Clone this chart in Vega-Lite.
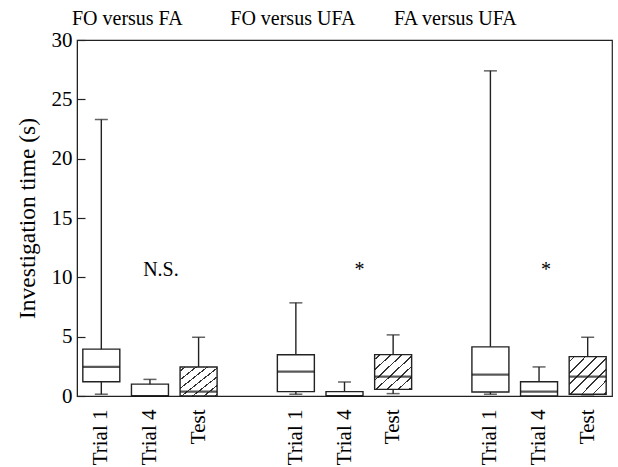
{
  "$schema": "https://vega.github.io/schema/vega-lite/v6.json",
  "width": 535,
  "height": 356,
  "autosize": "none",
  "padding": {"left": 77, "top": 40, "right": 6, "bottom": 71},
  "background": "white",
  "config": {
    "view": {"stroke": "#222", "strokeWidth": 1.2},
    "font": "'Liberation Serif', 'DejaVu Serif', serif",
    "text": {"font": "'Liberation Serif', 'DejaVu Serif', serif"},
    "axis": {"labelFont": "'Liberation Serif', 'DejaVu Serif', serif", "titleFont": "'Liberation Serif', 'DejaVu Serif', serif", "labelColor": "black", "titleColor": "black", "domainColor": "#222", "tickColor": "#222", "grid": false}
  },
  "datasets": {
    "boxes": [
      {"slot": "FO versus FA|Trial 1", "min": 0.15, "q1": 1.2, "median": 2.45, "q3": 3.95, "max": 23.3, "hatched": false},
      {"slot": "FO versus FA|Trial 4", "min": 0, "q1": 0, "median": 0, "q3": 1.0, "max": 1.4, "hatched": false},
      {"slot": "FO versus FA|Test", "min": 0, "q1": 0, "median": 0.37, "q3": 2.45, "max": 4.95, "hatched": true},
      {"slot": "FO versus UFA|Trial 1", "min": 0.15, "q1": 0.37, "median": 2.05, "q3": 3.48, "max": 7.85, "hatched": false},
      {"slot": "FO versus UFA|Trial 4", "min": 0, "q1": 0, "median": 0, "q3": 0.37, "max": 1.18, "hatched": false},
      {"slot": "FO versus UFA|Test", "min": 0.2, "q1": 0.56, "median": 1.63, "q3": 3.49, "max": 5.15, "hatched": true},
      {"slot": "FA versus UFA|Trial 1", "min": 0.15, "q1": 0.34, "median": 1.8, "q3": 4.14, "max": 27.4, "hatched": false},
      {"slot": "FA versus UFA|Trial 4", "min": 0, "q1": 0, "median": 0.37, "q3": 1.2, "max": 2.45, "hatched": false},
      {"slot": "FA versus UFA|Test", "min": 0.1, "q1": 0.15, "median": 1.63, "q3": 3.32, "max": 4.95, "hatched": true}
    ],
    "notes": [
      {"slot": "FO versus FA|Trial 4", "text": "N.S.", "y": 10.1},
      {"slot": "FO versus UFA|Trial 4", "text": "*", "y": 10.1},
      {"slot": "FA versus UFA|Trial 4", "text": "*", "y": 10.1}
    ],
    "headers": [
      {"slot": "FO versus FA|Trial 1", "text": "FO versus FA", "y": 31.3},
      {"slot": "FO versus UFA|Trial 1", "text": "FO versus UFA", "y": 31.3},
      {"slot": "FA versus UFA|Trial 1", "text": "FA versus UFA", "y": 31.3}
    ]
  },
  "encoding": {
    "x": {
      "field": "slot", "type": "nominal",
      "scale": {
        "domain": ["FO versus FA|Trial 1", "FO versus FA|Trial 4", "FO versus FA|Test", "gap1", "FO versus UFA|Trial 1", "FO versus UFA|Trial 4", "FO versus UFA|Test", "gap2", "FA versus UFA|Trial 1", "FA versus UFA|Trial 4", "FA versus UFA|Test"],
        "paddingInner": 0, "paddingOuter": 0
      },
      "axis": {
        "title": null, "ticks": false, "labelAngle": 270, "labelAlign": "right", "labelBaseline": "middle",
        "labelFontSize": 21, "labelPadding": 13,
        "labelExpr": "indexof(datum.label, '|') >= 0 ? split(datum.label, '|')[1] : ''"
      }
    }
  },
  "layer": [
    {
      "data": {"name": "boxes"},
      "mark": {"type": "rule", "color": "#222", "strokeWidth": 1.4},
      "encoding": {
        "y": {"field": "min", "type": "quantitative", "scale": {"domain": [0, 30], "nice": false},
          "axis": {
            "title": "Investigation time (s)", "titleFontSize": 23.5, "titleFontWeight": "normal", "titlePadding": 12,
            "values": [0, 2.5, 5, 7.5, 10, 12.5, 15, 17.5, 20, 22.5, 25, 27.5, 30],
            "labelExpr": "datum.value % 5 === 0 ? datum.label : ''",
            "labelFontSize": 21, "labelPadding": 13,
            "tickSize": {"condition": {"test": "datum.value % 5 === 0", "value": -8}, "value": -4},
            "tickWidth": 1.2
          }},
        "y2": {"field": "max"}
      }
    },
    {
      "data": {"name": "boxes"},
      "mark": {"type": "tick", "color": "#222", "size": 13, "thickness": 1.5},
      "encoding": {"y": {"field": "max", "type": "quantitative"}}
    },
    {
      "data": {"name": "boxes"},
      "mark": {"type": "tick", "color": "#222", "size": 13, "thickness": 1.5},
      "encoding": {"y": {"field": "min", "type": "quantitative"}}
    },
    {
      "data": {"name": "boxes"},
      "transform": [{"filter": "!datum.hatched"}],
      "mark": {"type": "bar", "size": 37, "fill": "white", "stroke": "#222", "strokeWidth": 1.4},
      "encoding": {"y": {"field": "q1", "type": "quantitative"}, "y2": {"field": "q3"}}
    },
    {
      "data": {"name": "boxes"},
      "transform": [{"filter": "datum.hatched"}],
      "mark": {"type": "bar", "size": 37, "stroke": "#222", "strokeWidth": 1.4,
        "fill": {"gradient": "linear", "x1": 0, "y1": 0, "x2": 1, "y2": 1, "stops": [
          {"offset": 0, "color": "white"},
          {"offset": 0.058, "color": "white"}, {"offset": 0.058, "color": "#333"}, {"offset": 0.082, "color": "#333"}, {"offset": 0.082, "color": "white"},
          {"offset": 0.208, "color": "white"}, {"offset": 0.208, "color": "#333"}, {"offset": 0.232, "color": "#333"}, {"offset": 0.232, "color": "white"},
          {"offset": 0.358, "color": "white"}, {"offset": 0.358, "color": "#333"}, {"offset": 0.382, "color": "#333"}, {"offset": 0.382, "color": "white"},
          {"offset": 0.508, "color": "white"}, {"offset": 0.508, "color": "#333"}, {"offset": 0.532, "color": "#333"}, {"offset": 0.532, "color": "white"},
          {"offset": 0.658, "color": "white"}, {"offset": 0.658, "color": "#333"}, {"offset": 0.682, "color": "#333"}, {"offset": 0.682, "color": "white"},
          {"offset": 0.808, "color": "white"}, {"offset": 0.808, "color": "#333"}, {"offset": 0.832, "color": "#333"}, {"offset": 0.832, "color": "white"},
          {"offset": 0.958, "color": "white"}, {"offset": 0.958, "color": "#333"}, {"offset": 0.982, "color": "#333"}, {"offset": 0.982, "color": "white"},
          {"offset": 1, "color": "white"}
        ]}},
      "encoding": {"y": {"field": "q1", "type": "quantitative"}, "y2": {"field": "q3"}}
    },
    {
      "data": {"name": "boxes"},
      "mark": {"type": "tick", "color": "#111", "size": 37, "thickness": 2.2},
      "encoding": {"y": {"field": "median", "type": "quantitative"}}
    },
    {
      "data": {"name": "notes"},
      "transform": [{"filter": "datum.text === 'N.S.'"}],
      "mark": {"type": "text", "fontSize": 20, "baseline": "alphabetic", "dx": 11},
      "encoding": {"y": {"field": "y", "type": "quantitative"}, "text": {"field": "text"}}
    },
    {
      "data": {"name": "notes"},
      "transform": [{"filter": "datum.slot === 'FO versus UFA|Trial 4'"}],
      "mark": {"type": "text", "fontSize": 20, "baseline": "alphabetic", "dx": 15},
      "encoding": {"y": {"field": "y", "type": "quantitative"}, "text": {"field": "text"}}
    },
    {
      "data": {"name": "notes"},
      "transform": [{"filter": "datum.slot === 'FA versus UFA|Trial 4'"}],
      "mark": {"type": "text", "fontSize": 20, "baseline": "alphabetic", "dx": 7},
      "encoding": {"y": {"field": "y", "type": "quantitative"}, "text": {"field": "text"}}
    },
    {
      "data": {"name": "headers"},
      "transform": [{"filter": "datum.text === 'FO versus FA'"}],
      "mark": {"type": "text", "fontSize": 20, "baseline": "alphabetic", "dx": 26, "clip": false},
      "encoding": {"y": {"field": "y", "type": "quantitative"}, "text": {"field": "text"}}
    },
    {
      "data": {"name": "headers"},
      "transform": [{"filter": "datum.text === 'FO versus UFA'"}],
      "mark": {"type": "text", "fontSize": 20, "baseline": "alphabetic", "dx": -3, "clip": false},
      "encoding": {"y": {"field": "y", "type": "quantitative"}, "text": {"field": "text"}}
    },
    {
      "data": {"name": "headers"},
      "transform": [{"filter": "datum.text === 'FA versus UFA'"}],
      "mark": {"type": "text", "fontSize": 20, "baseline": "alphabetic", "dx": -35, "clip": false},
      "encoding": {"y": {"field": "y", "type": "quantitative"}, "text": {"field": "text"}}
    }
  ]
}
